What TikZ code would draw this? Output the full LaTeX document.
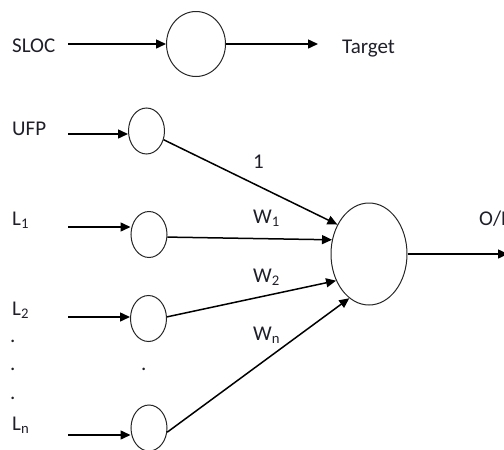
\documentclass[tikz,border=0pt]{standalone}
\usepackage{fontspec}
\setmainfont{Carlito}
\usetikzlibrary{arrows.meta,shapes.geometric}
\definecolor{txt}{HTML}{1F1F2A}
\begin{document}
\begin{tikzpicture}[x=1pt,y=-1pt,
  lbl/.style={font=\fontsize{21}{25}\selectfont, text=txt, inner sep=0pt, anchor=base west},
  neuron/.style={draw=black!85, line width=1pt, ellipse, inner sep=0pt},
  small/.style={neuron, minimum width=36pt, minimum height=46pt},
  arr/.style={line width=1.5pt, -{Triangle[length=10pt,width=9pt]}}]
\useasboundingbox (0,0) rectangle (504,450);

% top row
\node[lbl] (sloc) at (12,52) {SLOC};
\node[neuron, minimum width=59pt, minimum height=65pt] (top) at (196,44) {};
\node[lbl] (target) at (342,53) {Target};
\coordinate (s0) at (68,44);
\coordinate (t0) at (318,44);
\draw[arr] (s0) -- (top);
\draw[arr] (top) -- (t0);

% input labels
\node[lbl] (ufp) at (12,135) {UFP};
\node[lbl] (l1) at (12,225) {L\textsubscript{1}};
\node[lbl] (l2) at (12,315) {L\textsubscript{2}};
\node[lbl] (d1) at (10,342) {.};
\node[lbl] (d2) at (10,370) {.};
\node[lbl] (d3) at (10,399) {.};
\node[lbl] (ln) at (12,430) {L\textsubscript{n}};
\node[lbl] (dm) at (141,370) {.};

% input neurons
\node[small] (c0) at (146.5,131) {};
\node[small] (c1) at (149,234.5) {};
\node[small] (c2) at (148.5,318.5) {};
\node[small] (cn) at (149,428) {};

\coordinate (a0) at (68,134);
\coordinate (a1) at (68,227);
\coordinate (a2) at (68,317);
\coordinate (an) at (68,435);
\draw[arr] (a0) -- (c0.west |- a0);
\draw[arr] (a1) -- (c1.west |- a1);
\draw[arr] (a2) -- (c2.west |- a2);
\draw[arr] (an) -- (cn.west |- an);

% output neuron
\node[neuron, minimum width=76pt, minimum height=102pt] (big) at (369,254) {};

\draw[arr] (c0.-27) -- (big.137.8);
\draw[arr] (c1.-8) -- (big.159.3);
\draw[arr] (c2.5) -- (big.219.1);
\draw[arr] (cn.-13) -- (big.246.6);

% weights
\node[lbl] (w0) at (253,168) {1};
\node[lbl] (w1) at (253,223) {W\textsubscript{1}};
\node[lbl] (w2) at (253,282) {W\textsubscript{2}};
\node[lbl] (wn) at (253,340) {W\textsubscript{n}};

% output
\coordinate (out) at (508,254);
\draw[arr] (big.east) -- (out);
\node[lbl] (op) at (479,225) {O/P};
\end{tikzpicture}
\end{document}
